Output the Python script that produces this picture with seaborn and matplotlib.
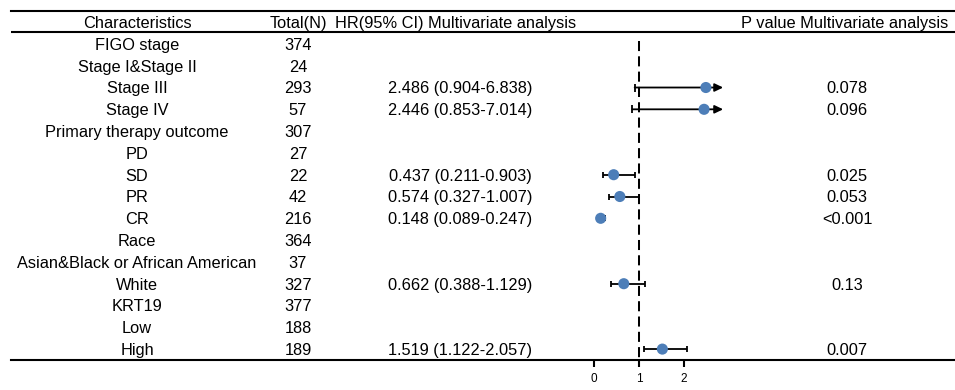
import numpy as np
import pandas as pd
import matplotlib
matplotlib.use("Agg")
import matplotlib.pyplot as plt
import matplotlib.transforms as mtransforms
import seaborn as sns

# ---- table contents -------------------------------------------------------
characteristics = [
    "FIGO stage", "Stage I&Stage II", "Stage III", "Stage IV",
    "Primary therapy outcome", "PD", "SD", "PR", "CR",
    "Race", "Asian&Black or African American", "White",
    "KRT19", "Low", "High",
]
total_n = [374, 24, 293, 57, 307, 27, 22, 42, 216, 364, 37, 327, 377, 188, 189]
hr = [np.nan, np.nan, 2.486, 2.446, np.nan, np.nan, 0.437, 0.574, 0.148,
      np.nan, np.nan, 0.662, np.nan, np.nan, 1.519]
ci_low = [np.nan, np.nan, 0.904, 0.853, np.nan, np.nan, 0.211, 0.327, 0.089,
          np.nan, np.nan, 0.388, np.nan, np.nan, 1.122]
ci_high = [np.nan, np.nan, 6.838, 7.014, np.nan, np.nan, 0.903, 1.007, 0.247,
           np.nan, np.nan, 1.129, np.nan, np.nan, 2.057]
p_values = ["", "", "0.078", "0.096", "", "", "0.025", "0.053", "<0.001",
            "", "", "0.13", "", "", "0.007"]
headers = ["Characteristics", "Total(N)",
           "HR(95% CI) Multivariate analysis", "P value Multivariate analysis"]
x_ticks = [0, 1, 2]

df = pd.DataFrame({
    "characteristics": characteristics,
    "total_n": total_n,
    "hr": hr,
    "ci_low": ci_low,
    "ci_high": ci_high,
    "p": p_values,
})
df["row"] = np.arange(len(df))

# ---- styling --------------------------------------------------------------
sns.set_theme(style="white")
plt.rcParams["font.family"] = ["Liberation Sans", "DejaVu Sans"]

POINT_COLOR = "#4D7EB8"
FS = 11.8
x_clip = 2.87          # upper display limit of the confidence intervals

W, H = 955, 390
fig = plt.figure(figsize=(W / 100, H / 100), dpi=100)
left_px, right_px, top_px, bottom_px = 11, 955, 11, 360
ax = fig.add_axes([left_px / W, 1 - bottom_px / H,
                   (right_px - left_px) / W, (bottom_px - top_px) / H])

# ---- forest marks ---------------------------------------------------------
ax.vlines(1, -0.15, 14.5, colors="black", linewidth=1.45,
          linestyles=(0, (5, 2.6)), zorder=2)

est = df.dropna(subset=["hr"])
for _, r in est.iterrows():
    if r.ci_high > x_clip:
        ax.annotate("", xy=(x_clip, r.row), xytext=(r.ci_low, r.row),
                    arrowprops=dict(arrowstyle="-|>,head_length=0.5,head_width=0.24",
                                    mutation_scale=10,
                                    color="black", lw=1.3,
                                    shrinkA=0, shrinkB=0),
                    zorder=3)
        ax.plot([r.ci_low], [r.row], marker="|", markersize=5.5,
                markeredgewidth=1.3, color="black", zorder=3)
    else:
        ax.errorbar(r.hr, r.row,
                    xerr=[[r.hr - r.ci_low], [r.ci_high - r.hr]],
                    fmt="none", ecolor="black", elinewidth=1.3,
                    capsize=2.4, capthick=1.3, zorder=3)

sns.scatterplot(data=est, x="hr", y="row", color=POINT_COLOR, s=64,
                edgecolor="none", zorder=4, ax=ax, legend=False)

# ---- axes frame -----------------------------------------------------------
px_per_unit = 45.0
zero_px = 594
ax.set_xlim((left_px - zero_px) / px_per_unit, (right_px - zero_px) / px_per_unit)
ax.set_ylim(14.5, -1.51)
ax.set_xlabel("")
ax.set_ylabel("")
ax.set_xticks(x_ticks)
ax.set_xticklabels([str(t) for t in x_ticks])
ax.set_yticks([])
ax.tick_params(axis="x", bottom=True, length=5, width=1.5, labelsize=8.5,
               pad=4.5, color="black", labelcolor="black")
for side in ("left", "right"):
    ax.spines[side].set_visible(False)
for side in ("top", "bottom"):
    ax.spines[side].set_visible(True)
    ax.spines[side].set_linewidth(1.5)
    ax.spines[side].set_color("black")
ax.axhline(-0.55, color="black", linewidth=1.5, zorder=2)
ax.set_facecolor("white")
ax.grid(False)

# ---- table text -----------------------------------------------------------
trans = mtransforms.blended_transform_factory(ax.transAxes, ax.transData)


def col(px):
    return (px - left_px) / (right_px - left_px)


cap_shift = 0.27
header_cols = [137, 298, 456, 845]
for text, cx in zip(headers, header_cols):
    ax.text(col(cx), -1.01 + cap_shift, text, transform=trans, ha="center",
            va="baseline", fontsize=FS, color="black")

for _, r in df.iterrows():
    y = r.row + cap_shift
    ax.text(col(137), y, r.characteristics, transform=trans, ha="center",
            va="baseline", fontsize=FS, color="black")
    ax.text(col(298), y, str(r.total_n), transform=trans, ha="center",
            va="baseline", fontsize=FS, color="black")
    if not np.isnan(r.hr):
        ax.text(col(460), y, f"{r.hr:.3f} ({r.ci_low:.3f}-{r.ci_high:.3f})",
                transform=trans, ha="center", va="baseline", fontsize=FS,
                color="black")
    if r.p:
        ax.text(col(847), y, r.p, transform=trans, ha="center",
                va="baseline", fontsize=FS, color="black")

fig.savefig("out.png", dpi=100, facecolor="white")
